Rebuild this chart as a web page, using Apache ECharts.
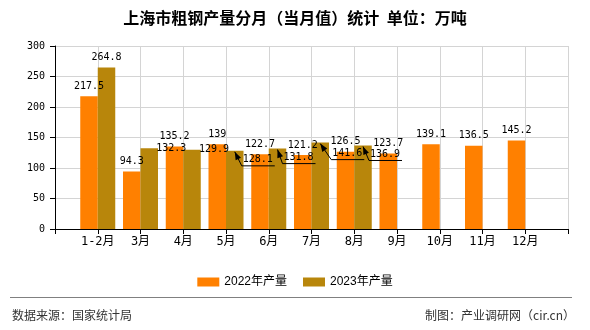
<!DOCTYPE html>
<html><head><meta charset="utf-8">
<script src="https://cdn.jsdelivr.net/npm/echarts@6/dist/echarts.min.js"></script>
<style>html,body{margin:0;padding:0;background:#fff}#c{width:590px;height:330px}</style>
</head><body><div id="c"></div>
<script>
// ---- data ----
const categories = ['1-2月','3月','4月','5月','6月','7月','8月','9月','10月','11月','12月'];
const output2022 = [217.5, 94.3, 135.2, 139, 122.7, 121.2, 126.5, 123.7, 139.1, 136.5, 145.2];
const output2023 = [264.8, 132.3, 129.9, 128.1, 131.8, 141.6, 136.9, null, null, null, null];
const seriesNames = ['2022年产量', '2023年产量'];
const titleText = '上海市粗钢产量分月（当月值）统计  单位：万吨';
const sourceText = '数据来源：国家统计局';
const creditText = '制图：产业调研网（cir.cn）';

// ---- style ----
const BAR_W = 17.5;
const COLORS = ['#FF8000', '#B8860B'];
const NUM_FONT = "'DejaVu Sans Mono','Noto Sans CJK SC',monospace";
const CJK_FONT = "'Noto Sans CJK SC','Liberation Sans',sans-serif";
// label shifts (px) for some 2023 labels: category index -> [dx, dy, withLeader]
const goldLabelShift = {1: [22, 10, false], 2: [22, 10, false], 3: [23, 19, true], 4: [21, 19, true], 5: [27, 21, true], 6: [22, 19, true]};

const axisData = [''].concat(categories, ['']);
const toSeries = (arr) => ['-'].concat(arr.map(v => v == null ? '-' : v), ['-']);

const data2022 = toSeries(output2022);
const data2023 = toSeries(output2023).map((v, k) => {
  const s = goldLabelShift[k - 1];
  if (v === '-' || !s) return v;
  return { value: v, label: { offset: [s[0], s[1]] } };
});
const leaderData = [];
output2023.forEach((v, i) => {
  const s = goldLabelShift[i];
  if (v != null && s && s[2]) leaderData.push([i + 1, v]);
});

function renderLeader(params, api) {
  const ci = api.value(0);
  const s = goldLabelShift[ci - 1];
  const p = api.coord([ci, api.value(1)]);
  const bx = p[0] + BAR_W / 2, top = p[1];
  const cx = bx + s[0], cy = top - 11 + s[1];
  const left = cx - 15, right = cx + 15;
  const tip = [bx, top + 1], corner = [left - 1, cy + 7], end = [right + 2, cy + 7];
  const vx = corner[0] - tip[0], vy = corner[1] - tip[1];
  const L = Math.hypot(vx, vy), ux = vx / L, uy = vy / L;
  const hl = 8, hw = 3;
  const b = [tip[0] + ux * hl, tip[1] + uy * hl];
  const a1 = [b[0] - uy * hw, b[1] + ux * hw], a2 = [b[0] + uy * hw, b[1] - ux * hw];
  return { type: 'group', children: [
    { type: 'polyline', shape: { points: [tip, corner, end] }, style: { stroke: '#000', lineWidth: 1, fill: null } },
    { type: 'polygon', shape: { points: [tip, a1, a2] }, style: { fill: '#000' } }
  ]};
}

const chart = echarts.init(document.getElementById('c'), null, { renderer: 'canvas' });
chart.setOption({
  animation: false,
  backgroundColor: '#fff',
  title: {
    text: titleText, left: 'center', top: 10, padding: 0,
    textStyle: { fontSize: 16, fontWeight: 'bold', color: '#000', fontFamily: CJK_FONT }
  },
  legend: {
    data: seriesNames, top: 271, left: 'center', icon: 'rect',
    itemWidth: 22, itemHeight: 9, itemGap: 16,
    textStyle: { fontSize: 12, color: '#000', fontFamily: "'Liberation Sans','Noto Sans CJK SC',sans-serif" }
  },
  grid: { left: 55, right: 22, top: 46, bottom: 101, containLabel: false, outerBoundsMode: 'none' },
  xAxis: {
    type: 'category', data: axisData, boundaryGap: false,
    axisLine: { show: true, lineStyle: { color: '#000', width: 1 } },
    axisTick: { show: true, length: 5, interval: 0, lineStyle: { color: '#000' } },
    axisLabel: { interval: 0, margin: 7, fontSize: 12, color: '#000', fontFamily: NUM_FONT },
    splitLine: { show: true, interval: 0, lineStyle: { color: '#d4d4d4', width: 1 } }
  },
  yAxis: {
    type: 'value', min: 0, max: 300, interval: 50,
    axisLine: { show: true, lineStyle: { color: '#000', width: 1 } },
    axisTick: { show: true, length: 5, lineStyle: { color: '#000' } },
    axisLabel: { margin: 10, fontSize: 10, color: '#000', fontFamily: NUM_FONT },
    splitLine: { show: true, lineStyle: { color: '#d4d4d4', width: 1 } }
  },
  series: [
    {
      name: seriesNames[0], type: 'bar', data: data2022, barWidth: BAR_W, barGap: '0%',
      itemStyle: { color: COLORS[0] },
      label: { show: true, position: 'top', distance: 5, fontSize: 10, color: '#000', fontFamily: NUM_FONT }
    },
    {
      name: seriesNames[1], type: 'bar', data: data2023, barWidth: BAR_W, barGap: '0%',
      itemStyle: { color: COLORS[1] },
      label: { show: true, position: 'top', distance: 5, fontSize: 10, color: '#000', fontFamily: NUM_FONT }
    },
    {
      name: 'leader', type: 'custom', data: leaderData, renderItem: renderLeader, z: 5, silent: true
    }
  ],
  graphic: [
    { type: 'line', shape: { x1: 10, y1: 297.5, x2: 572, y2: 297.5 }, style: { stroke: '#808080', lineWidth: 1 } },
    { type: 'text', left: 12, top: 309, style: { text: sourceText, fontSize: 12, fill: '#333', fontFamily: CJK_FONT } },
    { type: 'text', right: 15, top: 309, style: { text: creditText, fontSize: 12, fill: '#333', fontFamily: CJK_FONT } }
  ]
});
</script>
</body></html>
